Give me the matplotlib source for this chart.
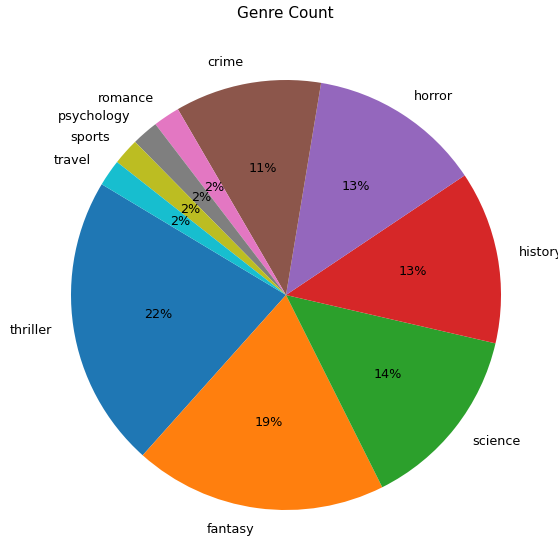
import matplotlib
matplotlib.use("Agg")
import matplotlib.pyplot as plt

genres = ["thriller", "fantasy", "science", "history", "horror", "crime",
          "romance", "psychology", "sports", "travel"]
counts = [22, 19, 14, 13, 13, 11, 2, 2, 2, 2]

W, H = 558, 541
fig = plt.figure(figsize=(W / 100, H / 100), dpi=100)
cx, cy, r = 286, 295, 215
ax = fig.add_axes([(cx - r) / W, (H - cy - r) / H, 2 * r / W, 2 * r / H])
ax.pie(counts, labels=genres, autopct="%1.0f%%", startangle=149,
       textprops={"fontsize": 9.2})
ax.set_xlim(-1, 1)
ax.set_ylim(-1, 1)
ax.set_aspect("equal")
fig.text(285 / W, 1 - 14 / H, "Genre Count", ha="center", va="center", fontsize=11)
fig.savefig("out.png", dpi=100)
